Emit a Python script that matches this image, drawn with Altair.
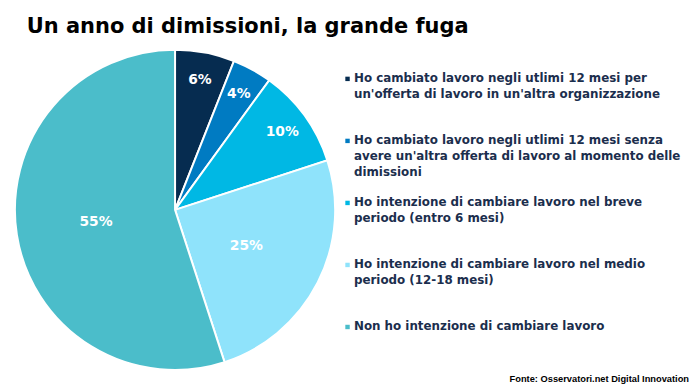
import altair as alt
import pandas as pd

title_text = "Un anno di dimissioni, la grande fuga"
source_text = "Fonte: Osservatori.net Digital Innovation"

categories = [
    "Ho cambiato lavoro negli utlimi 12 mesi per un'offerta di lavoro in un'altra organizzazione",
    "Ho cambiato lavoro negli utlimi 12 mesi senza avere un'altra offerta di lavoro al momento delle dimissioni",
    "Ho intenzione di cambiare lavoro nel breve periodo (entro 6 mesi)",
    "Ho intenzione di cambiare lavoro nel medio periodo (12-18 mesi)",
    "Non ho intenzione di cambiare lavoro",
]
legend_labels = [
    " Ho cambiato lavoro negli utlimi 12 mesi per\nun'offerta di lavoro in un'altra organizzazione",
    " Ho cambiato lavoro negli utlimi 12 mesi senza\navere un'altra offerta di lavoro al momento delle\ndimissioni",
    " Ho intenzione di cambiare lavoro nel breve\nperiodo (entro 6 mesi)",
    " Ho intenzione di cambiare lavoro nel medio\nperiodo (12-18 mesi)",
    " Non ho intenzione di cambiare lavoro",
]
values = [6, 4, 10, 25, 55]
colors = ["#062C50", "#007BC2", "#00B8E4", "#8FE3FB", "#4BBDCA"]

df = pd.DataFrame({
    "cat": categories,
    "label": legend_labels,
    "value": values,
    "order": list(range(len(values))),
    "pct": [f"{v}%" for v in values],
})

CX, CY, R = 169, 202, 162

base = alt.Chart(df)
color = alt.Color("cat:N", scale=alt.Scale(domain=categories, range=colors), legend=None)
theta = alt.Theta("value:Q", stack=True)

pie = base.mark_arc(outerRadius=R, stroke="white", strokeWidth=2).encode(
    theta=theta, color=color, order=alt.Order("order:Q"),
    x=alt.value(CX), y=alt.value(CY),
)

label_style = dict(font="DejaVu Sans", fontSize=14, fontWeight="bold", color="white",
                   align="center", baseline="middle")
labels_small = base.mark_text(radius=134, **label_style).encode(
    theta=theta, order=alt.Order("order:Q"),
    text=alt.condition("datum.value < 15", "pct:N", alt.value("")),
    x=alt.value(CX), y=alt.value(CY),
)
labels_big = base.mark_text(radius=81, **label_style).encode(
    theta=theta, order=alt.Order("order:Q"),
    text=alt.condition("datum.value >= 15", "pct:N", alt.value("")),
    x=alt.value(CX), y=alt.value(CY),
)

yleg = alt.Y("cat:N", scale=alt.Scale(domain=categories, range=[73, 324], padding=0), axis=None)

leg_sq = base.mark_square(size=20, opacity=1).encode(
    y=yleg, x=alt.value(343.5), color=color, yOffset=alt.value(-3.5),
)
leg_txt = base.mark_text(align="left", baseline="alphabetic", lineBreak="\n", lineHeight=16,
                         font="DejaVu Sans", fontSize=12, fontWeight="bold", color="#1B2E4D").encode(
    y=yleg, x=alt.value(350), text="label:N",
)

src = alt.Chart(pd.DataFrame({"t": [source_text]})).mark_text(
    align="right", baseline="alphabetic", font="Liberation Sans", fontSize=9.4,
    fontWeight="bold", color="black",
).encode(text="t:N", x=alt.value(689), y=alt.value(376))

chart = alt.layer(pie, labels_small, labels_big, leg_sq, leg_txt, src).properties(
    width=692, height=378, padding=0, autosize=alt.AutoSizeParams(type="none"),
    title=alt.TitleParams(title_text, anchor="start", frame="group", font="DejaVu Sans",
                          fontSize=21.2, fontWeight="bold", color="black", dx=19, dy=31),
).configure_view(stroke=None)

chart.save("out.html", embed_options={"renderer": "svg", "actions": False})
